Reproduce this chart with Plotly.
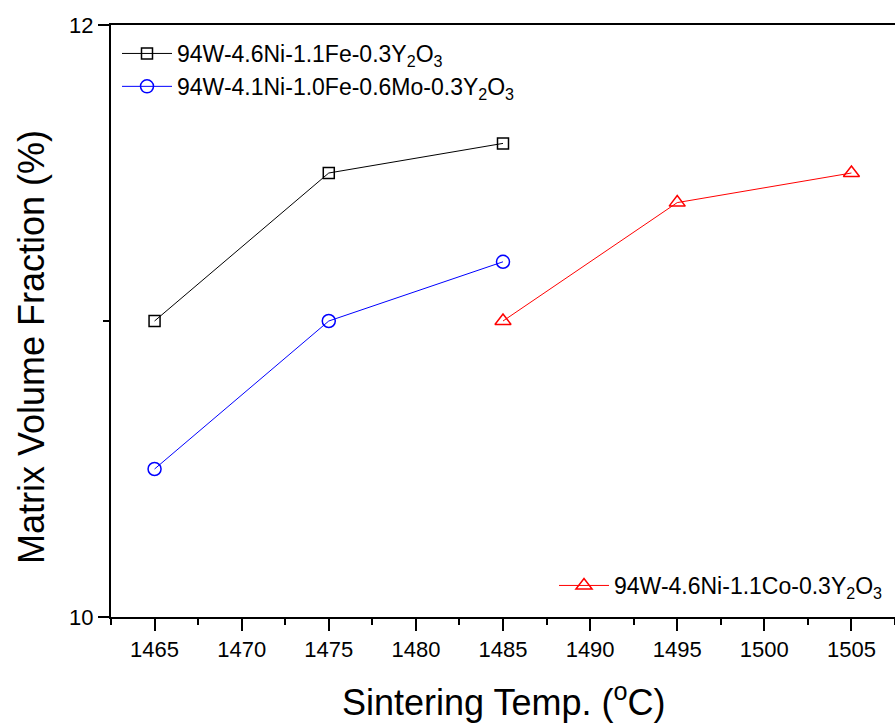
import plotly.graph_objects as go

# Data
temp_fe = [1465, 1475, 1485]
vf_fe = [11.0, 11.5, 11.6]
name_fe = "94W-4.6Ni-1.1Fe-0.3Y<sub>2</sub>O<sub>3</sub>"

temp_mo = [1465, 1475, 1485]
vf_mo = [10.5, 11.0, 11.2]
name_mo = "94W-4.1Ni-1.0Fe-0.6Mo-0.3Y<sub>2</sub>O<sub>3</sub>"

temp_co = [1485, 1495, 1505]
vf_co = [11.0, 11.4, 11.5]
name_co = "94W-4.6Ni-1.1Co-0.3Y<sub>2</sub>O<sub>3</sub>"

x_ticks = [1465, 1470, 1475, 1480, 1485, 1490, 1495, 1500, 1505]

FONT = "Liberation Sans, Arial, sans-serif"

fig = go.Figure()
fig.add_trace(go.Scatter(
    x=temp_fe, y=vf_fe, name=name_fe, mode="lines+markers",
    line=dict(color="#000000", width=1),
    marker=dict(symbol="square-open", size=11, color="#000000", line=dict(width=1.5)),
    legend="legend",
))
fig.add_trace(go.Scatter(
    x=temp_mo, y=vf_mo, name=name_mo, mode="lines+markers",
    line=dict(color="#0000FF", width=1),
    marker=dict(symbol="circle-open", size=13, color="#0000FF", line=dict(width=1.5)),
    legend="legend",
))
fig.add_trace(go.Scatter(
    x=temp_co, y=vf_co, name=name_co, mode="lines+markers",
    line=dict(color="#FF0000", width=1),
    marker=dict(symbol="triangle-up-open", size=14, color="#FF0000", line=dict(width=1.5)),
    legend="legend2",
))

W, H = 895, 727
L, R, T, B = 111, 0, 25, 110
pw = W - L - R
ph = H - T - B

fig.update_layout(
    width=W, height=H,
    margin=dict(l=L, r=R, t=T, b=B),
    paper_bgcolor="white", plot_bgcolor="white",
    font=dict(family=FONT, size=22, color="black"),
    showlegend=True,
    legend=dict(
        x=(117 - L) / pw, y=1 - (32 - T) / ph, xanchor="left", yanchor="top",
        bgcolor="rgba(0,0,0,0)", borderwidth=0, itemwidth=50,
        font=dict(family=FONT, size=23, color="black"), tracegroupgap=0,
    ),
    legend2=dict(
        x=(554 - L) / pw, y=1 - (564 - T) / ph, xanchor="left", yanchor="top",
        bgcolor="rgba(0,0,0,0)", borderwidth=0, itemwidth=50,
        font=dict(family=FONT, size=23, color="black"),
    ),
    xaxis=dict(
        range=[1462.5, 1507.5], tickmode="array", tickvals=x_ticks,
        showgrid=False, zeroline=False,
        showline=True, linecolor="black", linewidth=2, mirror=True,
        ticks="outside", ticklen=12, tickwidth=2, tickcolor="black",
        minor=dict(dtick=2.5, tick0=1462.5, ticks="outside", ticklen=6, tickwidth=2, tickcolor="black"),
        tickfont=dict(family=FONT, size=22, color="black"),
    ),
    yaxis=dict(
        range=[10, 12], tick0=10, dtick=2,
        showgrid=False, zeroline=False,
        showline=True, linecolor="black", linewidth=2, mirror=False,
        ticks="outside", ticklen=11, tickwidth=2, tickcolor="black",
        minor=dict(dtick=1, tick0=10, ticks="outside", ticklen=6, tickwidth=2, tickcolor="black"),
        tickfont=dict(family=FONT, size=22, color="black"),
    ),
    annotations=[
        dict(text="Sintering Temp. (<sup>o</sup>C)", xref="paper", yref="paper",
             x=0.5, y=-(700 - (H - B)) / ph, xanchor="center", yanchor="middle",
             showarrow=False, font=dict(family=FONT, size=36, color="black")),
        dict(text="Matrix Volume Fraction (%)", xref="paper", yref="paper",
             x=(32 - L) / pw, y=((H - B) - 347) / ph, xanchor="center", yanchor="middle",
             textangle=-90, showarrow=False, font=dict(family=FONT, size=36, color="black")),
    ],
)

fig.write_html("out.html")
